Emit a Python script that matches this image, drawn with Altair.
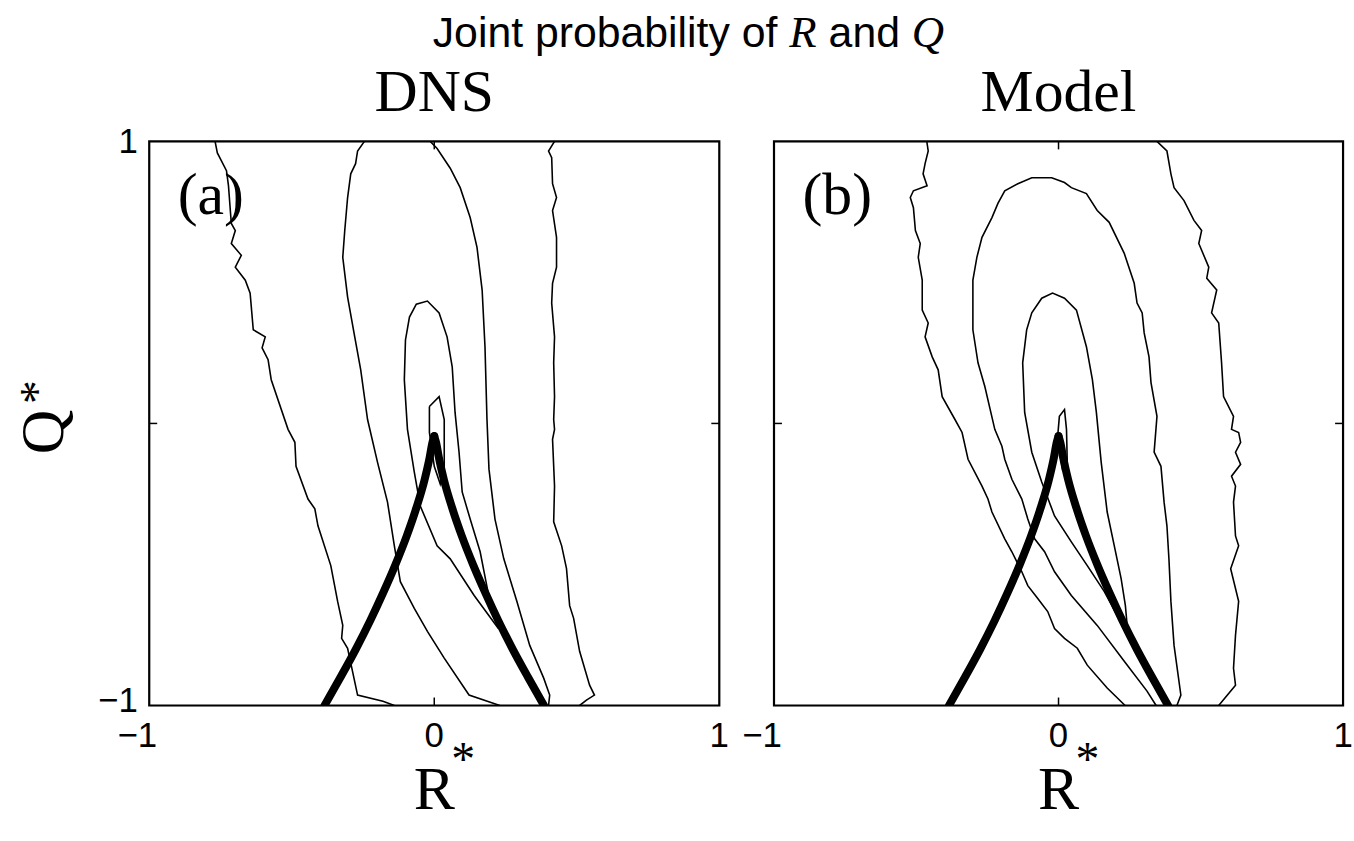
import altair as alt
import pandas as pd

# ---------------- values ----------------
# Panel (a) DNS : iso-probability contours in the (R*, Q*) plane
a_outer_left_R = [-0.769, -0.761, -0.729, -0.722, -0.712, -0.698, -0.712, -0.677, -0.698, -0.663,
                  -0.646, -0.635, -0.593, -0.604, -0.583, -0.572, -0.513, -0.489, -0.485, -0.443,
                  -0.419, -0.408, -0.363, -0.339, -0.321, -0.325, -0.304, -0.269, -0.18, -0.140]
a_outer_left_Q = [1.0, 0.959, 0.896, 0.843, 0.709, 0.684, 0.638, 0.596, 0.554, 0.508,
                  0.462, 0.332, 0.307, 0.268, 0.226, 0.155, -0.021, -0.067, -0.152, -0.268,
                  -0.303, -0.363, -0.504, -0.631, -0.716, -0.762, -0.797, -0.963, -0.985, -1.0]
a_outer_right_R = [0.422, 0.401, 0.412, 0.415, 0.429, 0.415, 0.429, 0.429, 0.415, 0.412,
                   0.422, 0.419, 0.422, 0.419, 0.422, 0.415, 0.422, 0.419, 0.447, 0.464,
                   0.475, 0.489, 0.510, 0.545, 0.562, 0.534, 0.510]
a_outer_right_Q = [1.0, 0.966, 0.942, 0.850, 0.801, 0.755, 0.660, 0.554, 0.497, 0.427,
                   0.307, 0.215, 0.095, 0.014, -0.021, -0.056, -0.222, -0.349, -0.434, -0.515,
                   -0.646, -0.691, -0.808, -0.928, -0.963, -0.981, -1.0]
a_mid_left_R = [-0.245, -0.269, -0.276, -0.293, -0.304, -0.314, -0.321, -0.304, -0.279, -0.258,
                -0.234, -0.199, -0.164, -0.140, -0.119, -0.070, -0.024, 0.035, 0.122, 0.230]
a_mid_left_Q = [1.0, 0.966, 0.921, 0.885, 0.801, 0.684, 0.589, 0.448, 0.307, 0.190,
                0.014, -0.138, -0.279, -0.434, -0.561, -0.656, -0.737, -0.832, -0.963, -1.0]
a_mid_right_R = [-0.014, 0.010, 0.056, 0.091, 0.126, 0.150, 0.168, 0.178, 0.185, 0.192,
                 0.213, 0.244, 0.290, 0.335, 0.384, 0.405, 0.401]
a_mid_right_Q = [1.0, 0.975, 0.905, 0.836, 0.730, 0.624, 0.473, 0.272, 0.014, -0.162,
                 -0.339, -0.480, -0.631, -0.787, -0.903, -0.963, -1.0]
a_inner_R = [0.225, 0.195, 0.161, 0.126, 0.098, 0.087, 0.073, 0.063, 0.045, 0.017,
             -0.024, -0.063, -0.087, -0.101, -0.105, -0.094, -0.070, -0.049, 0.010, 0.056,
             0.140, 0.225]
a_inner_Q = [-0.727, -0.631, -0.455, -0.339, -0.243, -0.102, 0.039, 0.201, 0.307, 0.392,
             0.434, 0.423, 0.377, 0.296, 0.155, -0.021, -0.173, -0.293, -0.434, -0.480,
             -0.610, -0.727]
a_core_R = [-0.017, 0.017, 0.035, 0.035, 0.021, 0.0, -0.017, -0.017]
a_core_Q = [0.060, 0.095, 0.014, -0.152, -0.215, -0.152, -0.032, 0.060]

# Panel (b) Model
b_outer_left_R = [-0.463, -0.458, -0.469, -0.476, -0.462, -0.510, -0.521, -0.510, -0.503, -0.486,
                  -0.493, -0.479, -0.479, -0.458, -0.469, -0.444, -0.423, -0.409, -0.364, -0.339,
                  -0.318, -0.269, -0.248, -0.234, -0.189, -0.164, -0.129, -0.108, -0.073, -0.038,
                  -0.014, 0.021, 0.066, 0.101, 0.171, 0.234]
b_outer_left_Q = [1.0, 0.966, 0.921, 0.885, 0.843, 0.825, 0.801, 0.765, 0.684, 0.638,
                  0.589, 0.508, 0.402, 0.356, 0.307, 0.236, 0.190, 0.095, 0.014, -0.032,
                  -0.127, -0.222, -0.268, -0.314, -0.409, -0.455, -0.526, -0.575, -0.621, -0.667,
                  -0.727, -0.762, -0.797, -0.857, -0.938, -1.0]
b_outer_right_R = [0.346, 0.381, 0.395, 0.406, 0.441, 0.476, 0.503, 0.493, 0.528, 0.521,
                   0.556, 0.538, 0.563, 0.573, 0.580, 0.615, 0.608, 0.633, 0.640, 0.622,
                   0.640, 0.608, 0.622, 0.615, 0.622, 0.633, 0.605, 0.633, 0.622, 0.615,
                   0.622, 0.563]
b_outer_right_Q = [1.0, 0.966, 0.885, 0.836, 0.790, 0.720, 0.684, 0.638, 0.554, 0.515,
                   0.473, 0.392, 0.356, 0.215, 0.095, 0.025, -0.021, -0.032, -0.067, -0.102,
                   -0.145, -0.187, -0.222, -0.279, -0.399, -0.434, -0.515, -0.631, -0.751, -0.868,
                   -0.928, -1.0]
b_mid_R = [0.343, 0.311, 0.231, 0.136, 0.045, -0.014, -0.049, -0.084, -0.108, -0.129,
           -0.164, -0.189, -0.199, -0.224, -0.259, -0.283, -0.301, -0.301, -0.287, -0.269,
           -0.234, -0.213, -0.189, -0.143, -0.094, -0.024, 0.021, 0.045, 0.098, 0.136,
           0.178, 0.231, 0.266, 0.276, 0.294, 0.301, 0.318, 0.325, 0.346, 0.336,
           0.360, 0.371, 0.381, 0.388, 0.395, 0.406, 0.430, 0.416]
b_mid_Q = [-1.0, -0.949, -0.843, -0.716, -0.610, -0.526, -0.455, -0.409, -0.339, -0.268,
           -0.198, -0.127, -0.081, -0.021, 0.131, 0.215, 0.332, 0.508, 0.589, 0.660,
           0.730, 0.780, 0.825, 0.850, 0.871, 0.871, 0.854, 0.836, 0.815, 0.755,
           0.713, 0.603, 0.497, 0.427, 0.392, 0.321, 0.236, 0.145, 0.025, -0.102,
           -0.152, -0.279, -0.363, -0.480, -0.631, -0.787, -0.963, -1.0]
b_inner_R = [0.243, 0.235, 0.220, 0.196, 0.171, 0.150, 0.133, 0.119, 0.098, 0.063,
             0.021, -0.021, -0.059, -0.094, -0.112, -0.126, -0.119, -0.094, -0.059, -0.014,
             0.045, 0.101, 0.161, 0.225, 0.243]
b_inner_Q = [-0.737, -0.646, -0.550, -0.434, -0.314, -0.138, 0.039, 0.155, 0.272, 0.402,
             0.444, 0.462, 0.444, 0.392, 0.332, 0.215, 0.039, -0.102, -0.208, -0.328,
             -0.420, -0.504, -0.596, -0.716, -0.737]
b_core_R = [-0.003, 0.003, 0.021, 0.028, 0.031, 0.014, -0.003]
b_core_Q = [-0.046, 0.025, 0.049, -0.021, -0.152, -0.162, -0.046]

# Thick curve (same in both panels)
vf_left_R = [-0.385, -0.329, -0.275, -0.225, -0.179, -0.136, -0.097, -0.063, -0.034, -0.016, -0.007, 0.0]
vf_left_Q = [-1.0, -0.9, -0.8, -0.7, -0.6, -0.5, -0.4, -0.3, -0.2, -0.12, -0.07, -0.045]
vf_right_R = [0.0, 0.007, 0.016, 0.034, 0.063, 0.097, 0.136, 0.179, 0.225, 0.275, 0.329, 0.385]
vf_right_Q = [-0.045, -0.07, -0.12, -0.2, -0.3, -0.4, -0.5, -0.6, -0.7, -0.8, -0.9, -1.0]

tick_values = [-1, 0, 1]
tick_text = ["\u22121", "0", "1"]
panel_titles = ["DNS", "Model"]
panel_labels = ["(a)", "(b)"]
main_title = ["Joint probability of", "R", "and", "Q"]

# ---------------- layout ----------------
H = 567
W_LEFT, W_RIGHT = 573, 572
GAP = 55
SANS = "Liberation Sans"
SERIF = "Liberation Serif"
TICK_FS = 35


def to_df(curves):
    rows = []
    for cid, (rs, qs) in enumerate(curves):
        for i, (r, q) in enumerate(zip(rs, qs)):
            rows.append({"c": cid, "i": i, "R": r, "Q": q})
    return pd.DataFrame(rows)


one = pd.DataFrame({"k": [0]})
ticks_df = pd.DataFrame({"v": tick_values, "t": tick_text})
xs = alt.Scale(domain=[-1, 1], nice=False, zero=False)
ys = alt.Scale(domain=[-1, 1], nice=False, zero=False)

yaxis_on = alt.Axis(values=tick_values, format="d", ticks=False, domain=False, grid=False,
                    labelFontSize=TICK_FS, labelFont=SANS, labelColor="black",
                    labelPadding=12, labelFlush=False, labelOverlap=False,
                    labelOffset=alt.condition("datum.value < 0", alt.value(-5), alt.value(0)))

vf_df = to_df([(vf_left_R, vf_left_Q), (vf_right_R, vf_right_Q)])

# Arial-compatible advance widths (per 1000 em) for laying out the title segments
ARIAL = {"J": 500, "o": 556, "i": 222, "n": 556, "t": 278, " ": 278, "p": 556, "r": 333,
         "b": 556, "a": 556, "l": 222, "y": 500, "f": 278, "d": 556}


def sans_w(s, fs):
    return sum(ARIAL[ch] for ch in s) * fs / 1000.0


def panel(curves, width, label, subtitle, show_y, with_title):
    yaxis = yaxis_on if show_y else None
    X = lambda **kw: alt.X(scale=xs, axis=None, title=None, **kw)
    Y = lambda **kw: alt.Y(scale=ys, axis=yaxis, title=None, **kw)

    layers = []
    layers.append(
        alt.Chart(to_df(curves)).mark_line(color="black", strokeWidth=1.6, clip=True).encode(
            x=X(field="R", type="quantitative"), y=Y(field="Q", type="quantitative"),
            detail="c:N", order="i:Q")
    )
    layers.append(
        alt.Chart(vf_df).mark_line(color="black", strokeWidth=8, interpolate="monotone",
                                   strokeCap="round", clip=True).encode(
            x=X(field="R", type="quantitative"), y=Y(field="Q", type="quantitative"),
            detail="c:N", order="i:Q")
    )
    # frame
    layers.append(alt.Chart(one).mark_rect(fillOpacity=0, stroke="black", strokeWidth=2.2).encode(
        x=alt.value(0), x2=alt.value(width), y=alt.value(0), y2=alt.value(H)))
    # inward ticks at 0
    tick = dict(color="black", strokeWidth=1.5)
    layers.append(alt.Chart(one).mark_rule(**tick).encode(
        x=alt.value(0), x2=alt.value(8), y=Y(datum=0)))
    layers.append(alt.Chart(one).mark_rule(**tick).encode(
        x=alt.value(width - 8), x2=alt.value(width), y=Y(datum=0)))
    layers.append(alt.Chart(one).mark_rule(**tick).encode(
        x=X(datum=0), y=alt.value(0), y2=alt.value(8)))
    layers.append(alt.Chart(one).mark_rule(**tick).encode(
        x=X(datum=0), y=alt.value(H - 8), y2=alt.value(H)))
    # x tick labels (digit centred on the tick, minus hanging left)
    layers.append(alt.Chart(ticks_df).transform_filter("datum.v < 0").mark_text(
        font=SANS, fontSize=TICK_FS, align="right", baseline="top", dx=8, color="black").encode(
        x=X(field="v", type="quantitative"), y=alt.value(H + 14), text="t:N"))
    layers.append(alt.Chart(ticks_df).transform_filter("datum.v >= 0").mark_text(
        font=SANS, fontSize=TICK_FS, align="center", baseline="top", color="black").encode(
        x=X(field="v", type="quantitative"), y=alt.value(H + 14), text="t:N"))
    # panel letter
    layers.append(alt.Chart(one).mark_text(text=label, font=SERIF, fontSize=60, align="left",
                                           baseline="alphabetic", color="black").encode(
        x=X(datum=-0.9), y=Y(datum=0.744)))
    # panel heading
    layers.append(alt.Chart(one).mark_text(text=subtitle, font=SERIF, fontSize=60, align="center",
                                           baseline="alphabetic", color="black").encode(
        x=alt.value(width / 2), y=alt.value(-31)))
    # x-axis title R*
    cx = width / 2
    layers.append(alt.Chart(one).mark_text(text="R", font=SERIF, fontSize=62, align="center",
                                           baseline="alphabetic", color="black").encode(
        x=alt.value(cx), y=alt.value(671)))
    layers.append(alt.Chart(one).mark_text(text="*", font=SERIF, fontSize=48, align="left",
                                           baseline="alphabetic", color="black").encode(
        x=alt.value(cx + 17), y=alt.value(637)))
    if show_y:
        layers.append(alt.Chart(one).mark_text(text="Q", font=SERIF, fontSize=62, align="center",
                                               baseline="alphabetic", angle=270, color="black").encode(
            x=alt.value(-87), y=alt.value(292)))
        layers.append(alt.Chart(one).mark_text(text="*", font=SERIF, fontSize=48, align="left",
                                               baseline="alphabetic", angle=270, color="black").encode(
            x=alt.value(-97), y=alt.value(264)))
        # invisible anchor fixing the panel origin at (150, 140) of the page
        layers.append(alt.Chart(one).mark_rule(opacity=0, strokeWidth=1).encode(
            x=alt.value(-149.5), y=alt.value(-139.5), y2=alt.value(0)))
    if with_title:
        fs, ifs = 43, 45
        w1 = sans_w("Joint probability of ", fs)
        wr = 611 * ifs / 1000.0
        w3 = sans_w(" and ", fs)
        wq = 722 * ifs / 1000.0
        total = w1 + wr + w3 + wq
        x0 = (692 - 150) - total / 2
        ty = 45 - 140
        segs = [
            (main_title[0], x0, SANS, fs, "normal"),
            (main_title[1], x0 + w1, SERIF, ifs, "italic"),
            (main_title[2], x0 + w1 + wr + sans_w(" ", fs), SANS, fs, "normal"),
            (main_title[3], x0 + w1 + wr + w3, SERIF, ifs, "italic"),
        ]
        for txt, xx, fnt, size, style in segs:
            layers.append(alt.Chart(one).mark_text(text=txt, font=fnt, fontSize=size, fontStyle=style,
                                                   align="left", baseline="alphabetic",
                                                   color="black").encode(
                x=alt.value(xx), y=alt.value(ty)))
    return alt.layer(*layers).properties(width=width, height=H)


left = panel([(a_outer_left_R, a_outer_left_Q), (a_outer_right_R, a_outer_right_Q),
              (a_mid_left_R, a_mid_left_Q), (a_mid_right_R, a_mid_right_Q),
              (a_inner_R, a_inner_Q), (a_core_R, a_core_Q)],
             W_LEFT, panel_labels[0], panel_titles[0], True, True)
right = panel([(b_outer_left_R, b_outer_left_Q), (b_outer_right_R, b_outer_right_Q),
               (b_mid_R, b_mid_Q), (b_inner_R, b_inner_Q), (b_core_R, b_core_Q)],
              W_RIGHT, panel_labels[1], panel_titles[1], False, False)

chart = alt.hconcat(left, right, spacing=GAP, bounds="flush").properties(
    padding=0, background="white"
).configure_view(strokeWidth=0).configure(font=SANS)

chart.save("out.html", embed_options={"renderer": "svg", "actions": False})
